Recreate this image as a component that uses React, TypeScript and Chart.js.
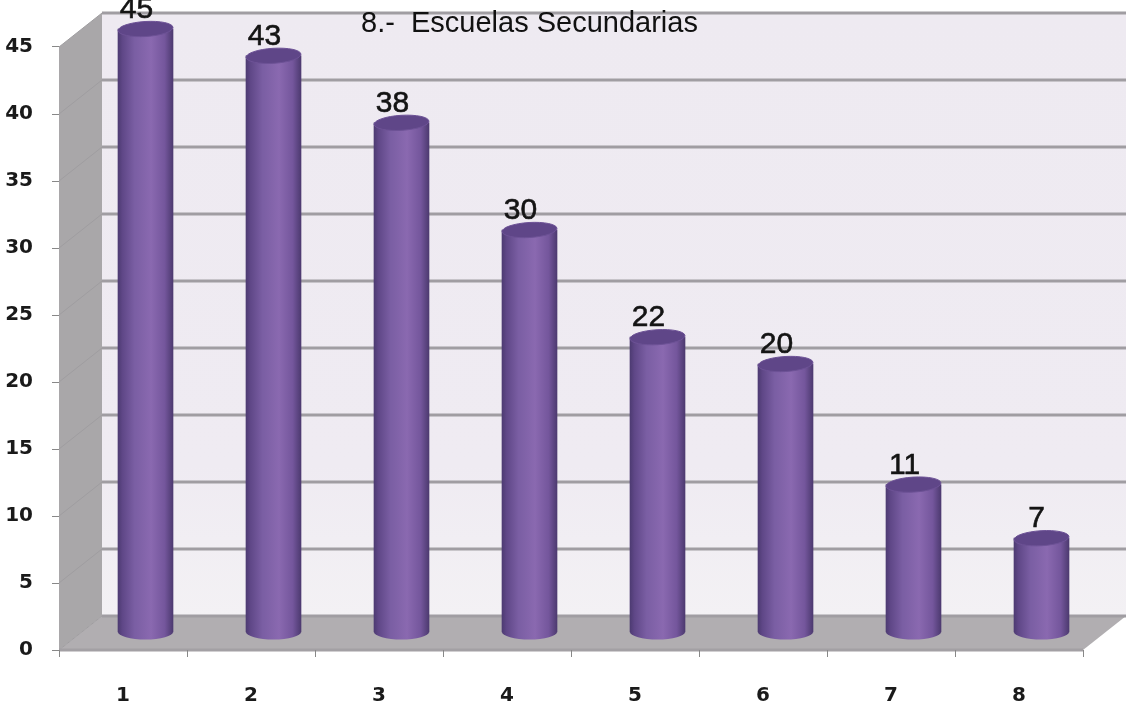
import React, { useEffect, useRef } from "react";
import { Chart, registerables } from "chart.js";

Chart.register(...registerables);

const categories = ["1", "2", "3", "4", "5", "6", "7", "8"];
const positions = [1, 2, 3, 4, 5, 6, 7, 8];
const values = [45, 43, 38, 30, 22, 20, 11, 7];
const yTicks = [0, 5, 10, 15, 20, 25, 30, 35, 40, 45];
const titleText = "8.-  Escuelas Secundarias";

const DX = 43;
const DY = 34;
const PX_PER_UNIT = 13.4;

const cylinderFill = (ctx: CanvasRenderingContext2D, cx: number, w: number) => {
  const g = ctx.createLinearGradient(cx - w / 2, 0, cx + w / 2, 0);
  g.addColorStop(0, "#4d3b72");
  g.addColorStop(0.08, "#5f4787");
  g.addColorStop(0.3, "#7a5ea3");
  g.addColorStop(0.6, "#8a69b0");
  g.addColorStop(0.85, "#74569c");
  g.addColorStop(1, "#4d3a70");
  return g;
};

const scene = {
  id: "scene",
  beforeDraw(chart: any) {
    const { ctx, chartArea, scales } = chart;
    const y = scales.y;
    const left = chartArea.left;
    const right = chartArea.right;
    const y0 = y.getPixelForValue(0);
    const yTop = y.getPixelForValue(45);
    ctx.save();
    // back wall
    const wall = ctx.createLinearGradient(0, yTop - DY, 0, y0 - DY);
    wall.addColorStop(0, "#eeeaf1");
    wall.addColorStop(0.75, "#efebf2");
    wall.addColorStop(1, "#f3f1f4");
    ctx.fillStyle = wall;
    ctx.fillRect(left + DX, yTop - DY, right - left, y0 - yTop);
    // left wall
    ctx.fillStyle = "#a9a7a9";
    ctx.beginPath();
    ctx.moveTo(left, y0);
    ctx.lineTo(left, yTop);
    ctx.lineTo(left + DX, yTop - DY);
    ctx.lineTo(left + DX, y0 - DY);
    ctx.closePath();
    ctx.fill();
    // floor
    ctx.fillStyle = "#b1aeb1";
    ctx.beginPath();
    ctx.moveTo(left, y0);
    ctx.lineTo(left + DX, y0 - DY);
    ctx.lineTo(right + DX, y0 - DY);
    ctx.lineTo(right, y0);
    ctx.closePath();
    ctx.fill();
    // grid lines from the y scale
    yTicks.forEach((v) => {
      const p = y.getPixelForValue(v);
      ctx.strokeStyle = "#9f9da0";
      ctx.lineWidth = 1;
      ctx.beginPath();
      ctx.moveTo(left, p);
      ctx.lineTo(left + DX, p - DY);
      ctx.stroke();
      ctx.strokeStyle = "#a09da2";
      ctx.lineWidth = 3;
      ctx.beginPath();
      ctx.moveTo(left + DX, p - DY);
      ctx.lineTo(right + DX, p - DY);
      ctx.stroke();
    });
    ctx.strokeStyle = "#a3a0a4";
    ctx.lineWidth = 3;
    ctx.beginPath();
    ctx.moveTo(left, y0);
    ctx.lineTo(right, y0);
    ctx.stroke();
    ctx.restore();
  },
  afterDraw(chart: any) {
    const { ctx } = chart;
    const meta = chart.getDatasetMeta(0);
    ctx.save();
    meta.data.forEach((bar: any, i: number) => {
      const w = bar.width;
      const rx = w / 2;
      const ry = 7.5;
      // rounded foot
      ctx.fillStyle = cylinderFill(ctx, bar.x, w);
      ctx.beginPath();
      ctx.ellipse(bar.x, bar.base, rx, ry, 0, 0, Math.PI * 2);
      ctx.fill();
      // top cap
      ctx.beginPath();
      ctx.ellipse(bar.x, bar.y, rx, ry, -0.06, 0, Math.PI * 2);
      ctx.fillStyle = "#5f4688";
      ctx.fill();
      ctx.strokeStyle = "#6d5296";
      ctx.lineWidth = 1;
      ctx.stroke();
      // value label
      const label = String(values[i]);
      ctx.fillStyle = "#141414";
      ctx.strokeStyle = "#141414";
      ctx.lineWidth = 0.6;
      ctx.font = '30px "Liberation Sans"';
      ctx.textAlign = "center";
      ctx.textBaseline = "alphabetic";
      const lx = bar.x - (label.length > 1 ? 9 : 5);
      ctx.fillText(label, lx, bar.y - 11);
      ctx.strokeText(label, lx, bar.y - 11);
    });
    ctx.fillStyle = "#111111";
    ctx.font = '29px "Liberation Sans"';
    ctx.textAlign = "left";
    ctx.textBaseline = "alphabetic";
    ctx.fillText(titleText, 361, 32);
    ctx.restore();
  },
};

export default function App() {
  const ref = useRef<HTMLCanvasElement>(null);
  useEffect(() => {
    const topVal = 650 / PX_PER_UNIT;
    const barOffset = 18 / PX_PER_UNIT;
    const chart = new Chart(ref.current!, {
      type: "bar",
      data: {
        labels: categories,
        datasets: [
          {
            data: positions.map((x, i) => ({ x, y: values[i] })) as any,
            xAxisID: "xBar",
            yAxisID: "yBar",
            barThickness: 55,
            borderWidth: 0,
            backgroundColor: (c: any) => {
              const sc = c.chart.scales.xBar;
              const px = sc && c.parsed ? sc.getPixelForValue(c.parsed.x) : NaN;
              if (!Number.isFinite(px)) return "#7a5ea3";
              return cylinderFill(c.chart.ctx, px, 55);
            },
          },
        ],
      },
      plugins: [scene],
      options: {
        responsive: false,
        animation: false,
        devicePixelRatio: 1,
        layout: { padding: { left: 0, right: 46, top: 0, bottom: 0 } },
        plugins: { legend: { display: false }, tooltip: { enabled: false }, title: { display: false } },
        scales: {
          x: {
            type: "category",
            offset: true,
            afterFit: (s: any) => {
              s.height = 57;
              s.paddingLeft = 0;
              s.paddingRight = 0;
            },
            grid: { drawOnChartArea: false, offset: true, color: "#888888", tickLength: 7 },
            border: { display: false },
            ticks: {
              color: "#1a1a1a",
              maxRotation: 0,
              padding: 27,
              font: { family: "DejaVu Sans", weight: "bold", size: 20 },
            },
          },
          y: {
            type: "linear",
            min: 0,
            max: topVal,
            afterFit: (s: any) => {
              s.width = 59;
              s.paddingTop = 0;
              s.paddingBottom = 0;
            },
            afterBuildTicks: (s: any) => {
              s.ticks = yTicks.map((value) => ({ value }));
            },
            grid: { drawOnChartArea: false, color: "#888888", tickLength: 7 },
            border: { display: false },
            ticks: {
              color: "#1a1a1a",
              padding: 19,
              font: { family: "DejaVu Sans", weight: "bold", size: 20 },
            },
          },
          xBar: {
            type: "linear",
            axis: "x",
            display: false,
            offset: false,
            min: 0.5 - 22.5 / 128,
            max: 8.5 - 22.5 / 128,
          },
          yBar: {
            type: "linear",
            axis: "y",
            display: false,
            min: -barOffset,
            max: topVal - barOffset,
          },
        } as any,
      },
    });
    return () => chart.destroy();
  }, []);
  return (
    <canvas
      ref={ref}
      width={1129}
      height={707}
      style={{ position: "absolute", left: 0, top: 0, display: "block", filter: "blur(0.5px)" }}
    />
  );
}
